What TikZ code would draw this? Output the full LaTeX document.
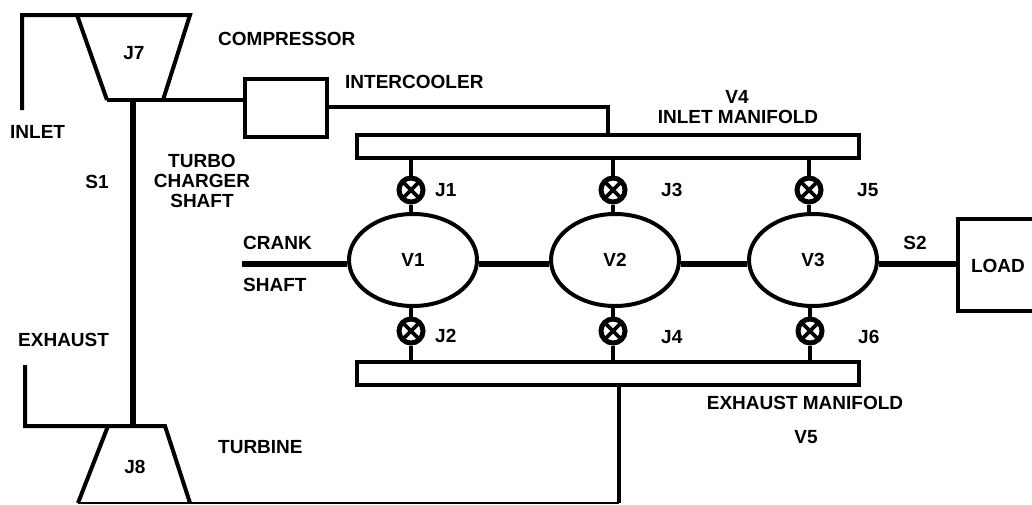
\documentclass[tikz,border=0pt]{standalone}
\usepackage{fontspec}
\setmainfont{Liberation Sans}
\usetikzlibrary{shapes.geometric}
\tikzset{
 lbl/.style={font=\fontsize{19}{20}\selectfont\bfseries, inner sep=0pt, align=center},
 pipe/.style={draw=black, line width=4pt, line join=miter},
 stub/.style={draw=black, line width=4pt},
 fine/.style={draw=black, line width=2.5pt},
 shaft/.style={draw=black, line width=5.5pt},
 vessel/.style={draw=black, line width=4pt, fill=white, ellipse, minimum width=128pt, minimum height=92pt, inner sep=0pt, font=\fontsize{19}{20}\selectfont\bfseries},
 manifold/.style={draw=black, line width=4pt, fill=white, rectangle, inner sep=0pt, minimum width=502pt, minimum height=23pt},
 plainbox/.style={draw=black, line width=4pt, rectangle, inner sep=0pt},
 valve/.style={draw=black, line width=5pt, circle, minimum size=24pt, inner sep=0pt, fill=white, path picture={
   \draw[line width=3.6pt] (path picture bounding box.south west)--(path picture bounding box.north east)
   (path picture bounding box.south east)--(path picture bounding box.north west);}},
}
\begin{document}
\begin{tikzpicture}[x=1pt,y=-1pt]
\useasboundingbox (0,0) rectangle (1032,504);
% free ends and corners
\coordinate (inletend) at (22,110);
\coordinate (inletcorner) at (22,15);
\coordinate (cTL) at (77,15);
\coordinate (cTR) at (190,15);
\coordinate (cBR) at (163,100);
\coordinate (cBL) at (107,100);
\coordinate (s1top) at (133,100);
\coordinate (s1bot) at (133,426);
\coordinate (tTL) at (108,426);
\coordinate (tTR) at (165,426);
\coordinate (tBR) at (190,503);
\coordinate (tBL) at (78,503);
\coordinate (exend) at (25,365);
\coordinate (excorner) at (25,426);
\coordinate (crankend) at (242,264);
\coordinate (icorner) at (608,107);
\coordinate (ecorner) at (619,503);
% boxes
\node[manifold] (inman) at (608,146.5) {};
\node[manifold] (exman) at (608,373) {};
\node[plainbox, minimum width=82pt, minimum height=58pt] (cooler) at (286,108) {};
\node[plainbox, minimum width=82pt, minimum height=92pt] (load) at (999,264.5) {};
\node[lbl] at (998,266) {LOAD};
% vessels
\node[vessel] (v1) at (413,260) {V1};
\node[vessel] (v2) at (615,260) {V2};
\node[vessel] (v3) at (813,260) {V3};
% valves
\node[valve] (j1) at (411,190) {};
\node[valve] (j2) at (411,331) {};
\node[valve] (j3) at (613,190) {};
\node[valve] (j4) at (613,331) {};
\node[valve] (j5) at (809,190) {};
\node[valve] (j6) at (810,331) {};
\foreach \b in {j1,j3,j5}{\draw[stub] (\b.north) -- (\b.north |- inman.south);}
\foreach \b in {j2,j4,j6}{\draw[stub] (\b.south) -- (\b.south |- exman.north);}
\draw[stub] (j1.south) -- (j1.south |- v1.north);
\draw[stub] (j3.south) -- (j3.south |- v2.north);
\draw[stub] (j5.south) -- (j5.south |- v3.north);
\draw[stub] (j2.north) -- (j2.north |- v1.south);
\draw[stub] (j4.north) -- (j4.north |- v2.south);
\draw[stub] (j6.north) -- (j6.north |- v3.south);
% shafts
\draw[shaft] (crankend) -- (crankend -| v1.west);
\draw[shaft] (crankend -| v1.east) -- (crankend -| v2.west);
\draw[shaft] (crankend -| v2.east) -- (crankend -| v3.west);
\draw[shaft] (crankend -| v3.east) -- (crankend -| load.west);
\draw[shaft, line width=6.5pt] (s1top) -- (s1bot);
% compressor and turbine
\draw[pipe] (inletend) -- (inletcorner) -- (cTL) -- (cTR) -- (cBR);
\draw[pipe] (cTL) -- (cBL);
\draw[stub] (cBL) -- (cBR) -- (cBR -| cooler.west);
\draw[pipe] (exend) -- (excorner) -- (tTL) -- (tTR) -- (tBR);
\draw[pipe] (tTL) -- (tBL);
\draw[fine] (tBL) -- (ecorner);
\draw[stub] (ecorner) -- (ecorner |- exman.south);
\draw[stub] (icorner -| cooler.east) -- (icorner) -- (icorner |- inman.north);
% labels
\node[lbl] at (134,53) {J7};
\node[lbl] at (135,467) {J8};
\node[lbl, anchor=west] at (218,39) {COMPRESSOR};
\node[lbl, anchor=west] at (345,82) {INTERCOOLER};
\node[lbl] at (737,97) {V4};
\node[lbl] at (738,117) {INLET MANIFOLD};
\node[lbl, anchor=west] at (10,132) {INLET};
\node[lbl] at (97,182) {S1};
\node[lbl] at (202,181) {TURBO\\CHARGER\\SHAFT};
\node[lbl, anchor=west] at (243,243) {CRANK};
\node[lbl, anchor=west] at (243,285) {SHAFT};
\node[lbl, anchor=west] at (18,340) {EXHAUST};
\node[lbl, anchor=west] at (218,447) {TURBINE};
\node[lbl, anchor=west] at (435,190) {J1};
\node[lbl, anchor=west] at (435,336) {J2};
\node[lbl, anchor=west] at (661,190) {J3};
\node[lbl, anchor=west] at (661,337) {J4};
\node[lbl, anchor=west] at (857,190) {J5};
\node[lbl, anchor=west] at (858,337) {J6};
\node[lbl] at (915,243) {S2};
\node[lbl] at (805,403) {EXHAUST MANIFOLD};
\node[lbl] at (806,437) {V5};
\end{tikzpicture}
\end{document}
